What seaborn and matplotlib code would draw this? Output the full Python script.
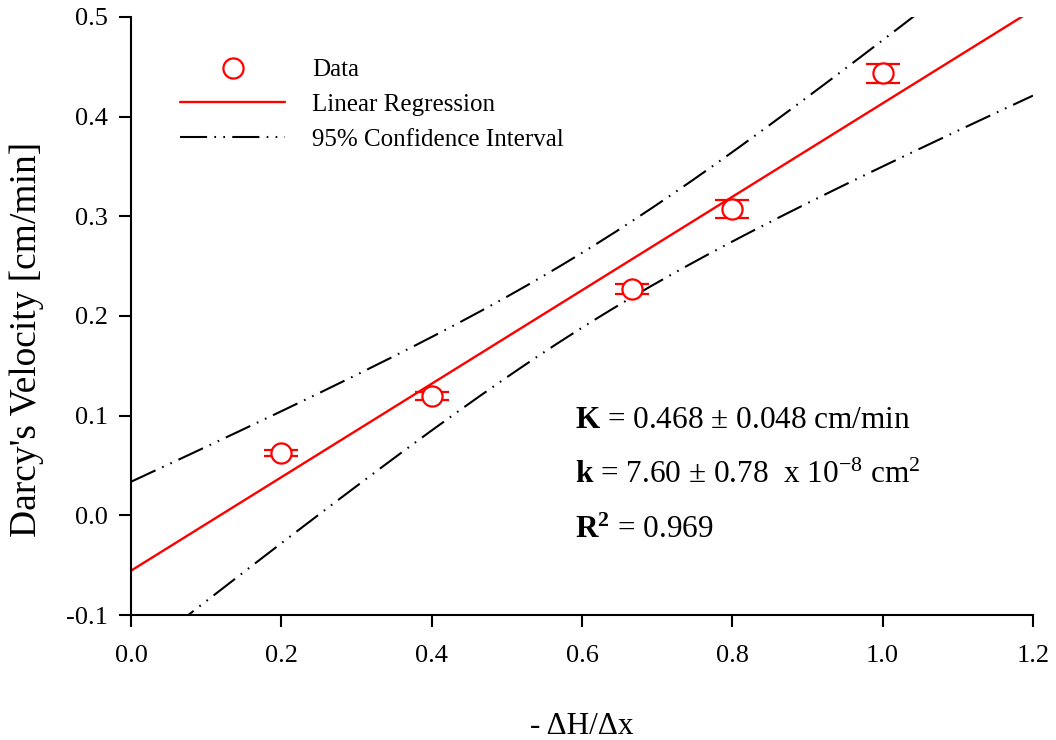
import numpy as np
import pandas as pd
import matplotlib
matplotlib.use("Agg")
import matplotlib.pyplot as plt
from matplotlib.lines import Line2D
import seaborn as sns

# ---- data ----
gradient = [0.2, 0.4, 0.667, 0.8, 1.0]            # -dH/dx
velocity = [0.063, 0.120, 0.227, 0.307, 0.4435]   # Darcy's velocity [cm/min]
vel_err = [0.003, 0.004, 0.005, 0.009, 0.0097]    # error bar half-heights
x_ticks = [0.0, 0.2, 0.4, 0.6, 0.8, 1.0, 1.2]
y_ticks = [-0.1, 0.0, 0.1, 0.2, 0.3, 0.4, 0.5]
t_mult = 2.776                                    # t-value used for the 95% band
legend_labels = ["Data", "Linear Regression", "95% Confidence Interval"]

sns.set_theme(style="white")
plt.rcParams["font.family"] = ["Liberation Serif", "DejaVu Serif"]
plt.rcParams["mathtext.fontset"] = "custom"
plt.rcParams["mathtext.rm"] = "Liberation Serif"
plt.rcParams["mathtext.bf"] = "Liberation Serif:bold"
plt.rcParams["mathtext.it"] = "Liberation Serif:italic"
plt.rcParams["axes.unicode_minus"] = False
plt.rcParams["text.color"] = "black"
plt.rcParams["axes.labelcolor"] = "black"

fig = plt.figure(figsize=(10.56, 7.40), dpi=100)
ax = fig.add_axes([131/1056, 1-615/740, (1033-131)/1056, (615-17)/740])

# regression and confidence band
x = np.asarray(gradient)
y = np.asarray(velocity)
slope, intercept = np.polyfit(x, y, 1)
n = len(x)
resid = y - (slope * x + intercept)
s = np.sqrt(np.sum(resid**2) / (n - 2))
sxx = np.sum((x - x.mean())**2)
xx = np.linspace(0.0, 1.2, 200)
yy = slope * xx + intercept
hw = t_mult * s * np.sqrt(1.0/n + (xx - x.mean())**2 / sxx)
df = pd.DataFrame({"x": xx, "fit": yy, "lo": yy - hw, "hi": yy + hw})

ci_style = (0, (13, 3.5, 0.8, 3.5, 0.8, 3.5))
sns.lineplot(data=df, x="x", y="fit", ax=ax, color="#ff0000", lw=1.7)
sns.lineplot(data=df, x="x", y="hi", ax=ax, color="black", lw=1.5)
sns.lineplot(data=df, x="x", y="lo", ax=ax, color="black", lw=1.5)
for ln in ax.lines[1:3]:
    ln.set_linestyle(ci_style)

ax.errorbar(gradient, velocity, yerr=vel_err, fmt="o", ms=14.5, mfc="white",
            mec="#ff0000", mew=1.6, ecolor="#ff0000", elinewidth=1.6,
            capsize=12.5, capthick=1.6, zorder=5)

ax.set_xlim(0.0, 1.2)
ax.set_ylim(-0.1, 0.5)
ax.set_xticks(x_ticks)
ax.set_yticks(y_ticks)
ax.set_xticklabels([f"{v:.1f}" for v in x_ticks])
ax.set_yticklabels([f"{v:.1f}" for v in y_ticks])
for sp in ["top", "right"]:
    ax.spines[sp].set_visible(False)
for sp in ["left", "bottom"]:
    ax.spines[sp].set_linewidth(1.5)
    ax.spines[sp].set_color("black")
ax.tick_params(axis="both", direction="out", length=8.5, width=1.5,
               colors="black", labelsize=19, left=True, bottom=True)
ax.tick_params(axis="y", pad=8)
ax.tick_params(axis="x", pad=13)
ax.grid(False)

ax.set_xlabel("- ΔH/Δx", fontsize=22.5, color="black")
ax.xaxis.set_label_coords(0.5, -0.162)
ax.set_ylabel("Darcy's Velocity [cm/min]", fontsize=27, color="black")
ax.yaxis.set_label_coords(-0.0965, 0.4615)

# annotation
ann = dict(fontsize=22.5, color="black", va="baseline", ha="left")
ax.text(0.5907, 0.0873, r"$\mathbf{K}$ = 0.468 ± 0.048 cm/min", **ann)
ax.text(0.5907, 0.0321, r"$\mathbf{k}$ = 7.60 ± 0.78  x 10$^{-8}$ cm$^{2}$", **ann)
ax.text(0.5907, -0.0231, r"$\mathbf{R^2}$ = 0.969", **ann)

handles = [
    Line2D([], [], ls="none", marker="o", ms=14.5, mfc="white", mec="#ff0000", mew=1.6),
    Line2D([], [], color="#ff0000", lw=1.7),
    Line2D([], [], color="black", lw=1.5, ls=ci_style),
]
leg = ax.legend(handles, legend_labels, loc="upper left",
                bbox_to_anchor=(180/1056, 1-59/740), bbox_transform=fig.transFigure,
                frameon=False, fontsize=18, handlelength=4.2, handletextpad=1.1,
                labelspacing=0.48, borderpad=0, borderaxespad=0)
for t in leg.get_texts():
    t.set_color("black")

fig.savefig("out.png", dpi=100)
